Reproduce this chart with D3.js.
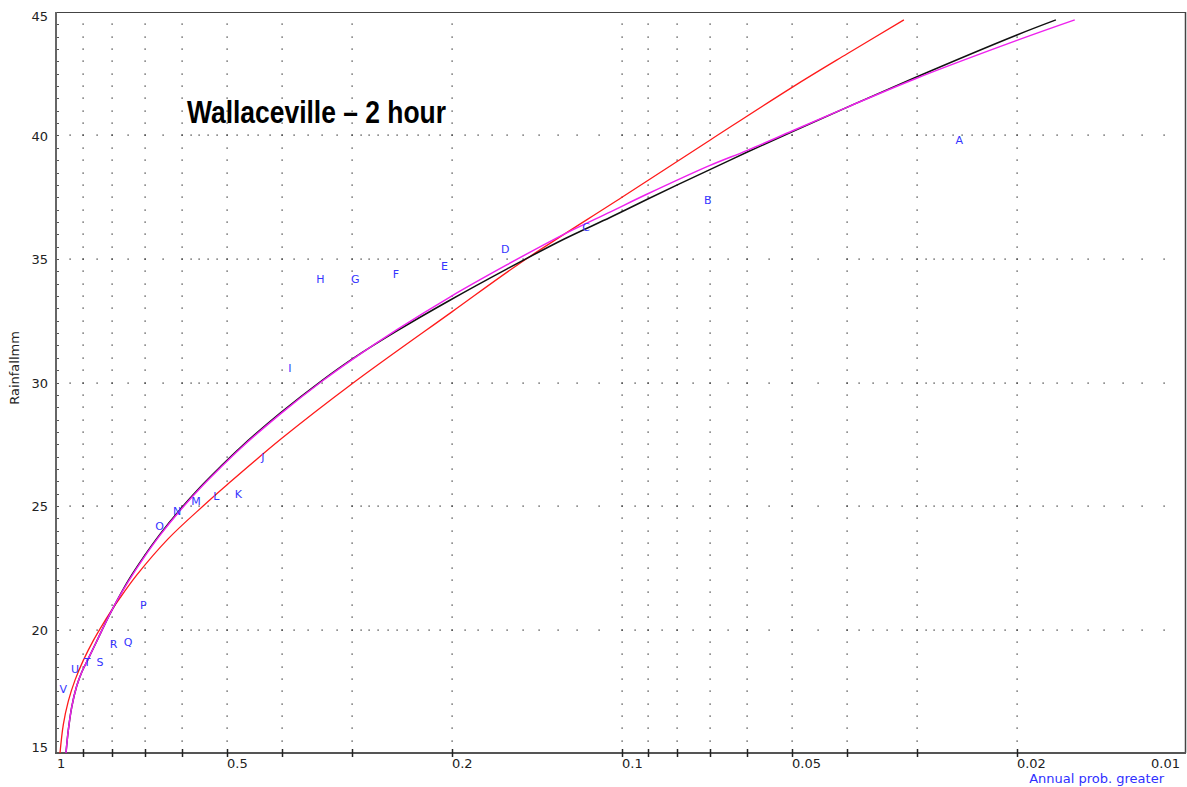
<!DOCTYPE html>
<html>
<head>
<meta charset="utf-8">
<script src="https://cdn.jsdelivr.net/npm/d3@7/dist/d3.min.js"></script>
<style>
  html, body { margin: 0; padding: 0; background: #fff; }
  svg { display: block; }
</style>
</head>
<body>
<svg id="chart" width="1187" height="787"></svg>
<script>
// Annual maxima, ranked A (largest) .. V (smallest), with plotting positions
const stationLetters = ["A","B","C","D","E","F","G","H","I","J","K","L","M","N","O","P","Q","R","S","T","U","V"];
const stationProb = [0.0253, 0.0705, 0.1157, 0.1609, 0.2062, 0.2514, 0.2966, 0.3418, 0.3870, 0.4322, 0.4774,
                     0.5226, 0.5678, 0.6130, 0.6582, 0.7034, 0.7486, 0.7939, 0.8391, 0.8843, 0.9295, 0.9747];
const stationRain = [39.8, 37.4, 36.3, 35.4, 34.7, 34.4, 34.2, 34.2, 30.6, 27.0, 25.5,
                     25.4, 25.2, 24.8, 24.2, 21.0, 19.5, 19.4, 18.7, 18.7, 18.4, 17.6];

// Fitted frequency curves: [annual probability, rainfall mm]
const fitRed = [
  [0.9878, 15.0], [0.9746, 16.15], [0.9549, 17.1], [0.9292, 17.95], [0.8984, 18.75],
  [0.8626, 19.55], [0.8278, 20.25], [0.8055, 20.68], [0.7734, 21.28], [0.7216, 22.22],
  [0.6359, 23.67], [0.5513, 25.0], [0.5, 25.86], [0.4, 27.74], [0.3, 29.96],
  [0.2, 32.86], [0.15, 34.9], [0.1, 37.5], [0.07, 39.8], [0.05, 41.95],
  [0.04, 43.3], [0.0317, 44.68]
];
const fitBlack = [
  [0.9640, 15.0], [0.9550, 15.92], [0.9418, 16.86], [0.9228, 17.71], [0.9042, 18.27],
  [0.8801, 18.82], [0.8450, 19.66], [0.8112, 20.5], [0.7839, 21.15], [0.7476, 21.99],
  [0.7033, 22.92], [0.6570, 23.86], [0.6055, 24.86], [0.5581, 25.76], [0.5143, 26.58],
  [0.4740, 27.36], [0.4027, 28.76], [0.3397, 30.08], [0.2986, 30.99], [0.2502, 32.09],
  [0.2013, 33.34], [0.1597, 34.6], [0.1268, 35.8], [0.1048, 36.69], [0.0902, 37.42],
  [0.0702, 38.6], [0.0600, 39.33], [0.0500, 40.15], [0.0399, 41.15], [0.0304, 42.33],
  [0.0200, 44.07], [0.01706, 44.68]
];
const fitMagenta = [
  [0.9640, 15.0], [0.9550, 15.92], [0.9418, 16.86], [0.9228, 17.71], [0.9042, 18.27],
  [0.8801, 18.82], [0.8450, 19.66], [0.8112, 20.5], [0.7839, 21.15], [0.7476, 21.95],
  [0.7033, 22.88], [0.6570, 23.82], [0.6055, 24.82], [0.5581, 25.72], [0.5143, 26.54],
  [0.4740, 27.32], [0.4027, 28.72], [0.3397, 30.05], [0.2986, 30.97], [0.2502, 32.14],
  [0.2013, 33.47], [0.1597, 34.77], [0.1268, 36.0], [0.1048, 36.91], [0.0902, 37.63],
  [0.0702, 38.77], [0.0600, 39.4], [0.0500, 40.18], [0.0399, 41.15], [0.0304, 42.28],
  [0.0200, 43.85], [0.0158, 44.68]
];

// Axis ticks
const probLabels = [1, 0.5, 0.2, 0.1, 0.05, 0.02, 0.01];
const probTicks = [0.9, 0.8, 0.7, 0.6, 0.5, 0.4, 0.3, 0.2, 0.1, 0.09, 0.08, 0.07, 0.06, 0.05, 0.04, 0.03, 0.02];
const rainLabels = [15, 20, 25, 30, 35, 40, 45];
const rainGridRows = [20, 25, 30, 35, 40];
// Probabilities at which the dotted horizontal rows carry a dot
const rowDotProb = [
  0.95, 0.9, 0.85, 0.8, 0.75, 0.7, 0.65, 0.6,
  0.58, 0.56, 0.54, 0.52, 0.5, 0.48, 0.46, 0.44, 0.42, 0.4, 0.38, 0.36, 0.34, 0.32, 0.3,
  0.29, 0.28, 0.27, 0.26, 0.25, 0.24, 0.23, 0.22, 0.21, 0.2, 0.19, 0.18, 0.17, 0.16, 0.15,
  0.14, 0.13, 0.12, 0.11, 0.1,
  0.095, 0.09, 0.085, 0.08, 0.075, 0.07, 0.065, 0.06, 0.055, 0.05, 0.045, 0.04,
  0.038, 0.036, 0.034, 0.032, 0.03,
  0.029, 0.028, 0.027, 0.026, 0.025, 0.024, 0.023, 0.022, 0.021, 0.02,
  0.019, 0.018, 0.017, 0.016, 0.015, 0.014, 0.013, 0.012, 0.011
];
// Rainfall levels at which the dotted vertical lines carry a dot
const colDotRain = d3.range(15.5, 45, 0.5);

const plotLeft = 57, plotRight = 1187, plotTop = 12, plotBottom = 753;
const x = d3.scaleLog().domain([1, 0.01]).range([plotLeft, plotRight]);
const y = d3.scaleLinear().domain([15, 45]).range([plotBottom, plotTop]);

const svg = d3.select("#chart");
const font = "'DejaVu Sans', Verdana, sans-serif";

// Dotted grid
const grid = svg.append("g").attr("fill", "#222");
rainGridRows.forEach(r => {
  grid.selectAll(null).data(rowDotProb).enter().append("rect")
    .attr("x", d => Math.round(x(d)) - 0.5).attr("y", Math.round(y(r)) - 0.5)
    .attr("width", 1.2).attr("height", 1.2);
});
probTicks.forEach(p => {
  grid.selectAll(null).data(colDotRain).enter().append("rect")
    .attr("x", Math.round(x(p)) - 0.5).attr("y", d => Math.round(y(d)) - 0.5)
    .attr("width", 1.2).attr("height", 1.2);
});

// Frame
svg.append("line").attr("x1", 56).attr("x2", 1186).attr("y1", plotTop + 0.5).attr("y2", plotTop + 0.5)
  .attr("stroke", "#444").attr("stroke-width", 1.2);
svg.append("line").attr("x1", 1185.5).attr("x2", 1185.5).attr("y1", plotTop).attr("y2", plotBottom)
  .attr("stroke", "#444").attr("stroke-width", 1.5);

// Left axis with half-millimetre marks
svg.append("line").attr("x1", 56).attr("x2", 56).attr("y1", plotTop).attr("y2", plotBottom + 1)
  .attr("stroke", "#666").attr("stroke-width", 2);
svg.append("g").selectAll("line").data(d3.range(15.5, 45, 0.5)).enter().append("line")
  .attr("x1", 57).attr("x2", 59).attr("y1", d => Math.round(y(d)) + 0.5).attr("y2", d => Math.round(y(d)) + 0.5)
  .attr("stroke", "#555").attr("stroke-width", 1);
svg.append("g").selectAll("text").data(rainLabels).enter().append("text")
  .attr("x", 48).attr("y", d => Math.min(Math.max(y(d), 16), 747) + 5)
  .attr("text-anchor", "end").attr("font-family", font).attr("font-size", 13).attr("fill", "#222")
  .text(d => d);
svg.append("text").attr("transform", "translate(19,368) rotate(-90)")
  .attr("text-anchor", "middle").attr("font-family", font).attr("font-size", 13).attr("fill", "#222")
  .text("Rainfallmm");

// Bottom axis
svg.append("line").attr("x1", 55).attr("x2", 1186).attr("y1", plotBottom).attr("y2", plotBottom)
  .attr("stroke", "#555").attr("stroke-width", 2);
svg.append("g").selectAll("line").data(probTicks).enter().append("line")
  .attr("x1", d => Math.round(x(d)) + 0.5).attr("x2", d => Math.round(x(d)) + 0.5)
  .attr("y1", plotBottom - 4).attr("y2", plotBottom + 4)
  .attr("stroke", "#222").attr("stroke-width", 1.5);
svg.append("g").selectAll("text").data(probLabels).enter().append("text")
  .attr("x", d => d === 0.01 ? 1180 : x(d))
  .attr("y", 768)
  .attr("text-anchor", d => d === 0.01 ? "end" : "start")
  .attr("font-family", font).attr("font-size", 13).attr("fill", "#222")
  .text(d => d);
svg.append("text").attr("x", 1164).attr("y", 783).attr("text-anchor", "end")
  .attr("font-family", font).attr("font-size", 13).attr("fill", "#2f2fff")
  .text("Annual prob. greater");

// Fitted curves
const line = d3.line().x(d => x(d[0])).y(d => y(d[1])).curve(d3.curveCatmullRom.alpha(0.5));
const curves = svg.append("g").attr("fill", "none").attr("stroke-linejoin", "round");
curves.append("path").datum(fitRed).attr("d", line).attr("stroke", "#ff1a1a").attr("stroke-width", 1.3);
curves.append("path").datum(fitBlack).attr("d", line).attr("stroke", "#111").attr("stroke-width", 1.5);
curves.append("path").datum(fitMagenta).attr("d", line).attr("stroke", "#ee22ee").attr("stroke-width", 1.5);

// Ranked observations as letters
svg.append("g").selectAll("text").data(stationLetters).enter().append("text")
  .attr("x", (d, i) => x(stationProb[i]))
  .attr("y", (d, i) => y(stationRain[i]) + 4)
  .attr("text-anchor", "middle").attr("font-family", font).attr("font-size", 11).attr("fill", "#3535ff")
  .text(d => d);

// Title
svg.append("text").attr("x", 187).attr("y", 123)
  .attr("font-family", "'Liberation Sans Narrow', 'Liberation Sans', Arial, sans-serif")
  .attr("font-weight", "bold").attr("font-size", 32).attr("fill", "#000")
  .attr("textLength", 259).attr("lengthAdjust", "spacingAndGlyphs")
  .text("Wallaceville \u2013 2 hour");
</script>
</body>
</html>
